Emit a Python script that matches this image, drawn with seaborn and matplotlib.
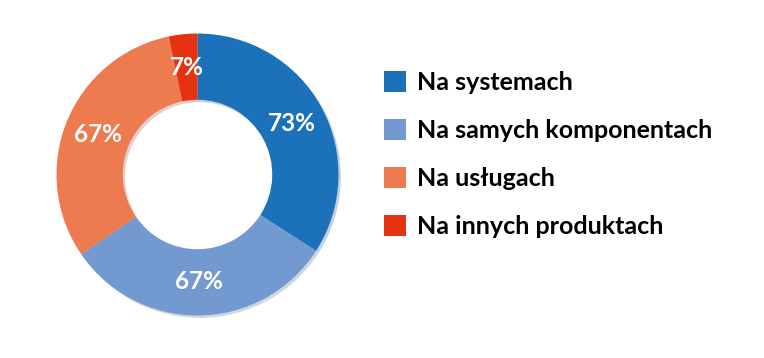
import matplotlib
matplotlib.use('Agg')
import matplotlib.pyplot as plt
import seaborn as sns
import numpy as np

categories = ['Na systemach', 'Na samych komponentach', 'Na usługach', 'Na innych produktach']
values = [73, 67, 67, 7]
pct_labels = ['73%', '67%', '67%', '7%']
colors = ['#1b72bb', '#7299d0', '#ee7a50', '#e43212']

sns.set_theme(style='white')
plt.rcParams['font.family'] = ['Lato', 'DejaVu Sans']

fig = plt.figure(figsize=(7.64, 3.58), dpi=100)
ax = fig.add_axes([56.5 / 764, 42.5 / 358, 282 / 764, 282 / 358])

palette = sns.color_palette(colors)
wedges, _ = ax.pie(values, colors=palette, startangle=90, counterclock=False,
                   radius=1, wedgeprops=dict(width=0.47, linewidth=0),
                   shadow=dict(ox=0.012, oy=-0.012, shade=0.4, alpha=0.25))

# etykiety procentowe w pierścieniu
total = sum(values)
ang = 90.0
for w, lab in zip(values, pct_labels):
    span = w / total * 360
    mid = np.deg2rad(ang - span / 2)
    ang -= span
    ax.text(0.76 * np.cos(mid), 0.76 * np.sin(mid), lab, ha='center', va='center',
            color='white', fontsize=17.5, fontweight='bold')

ax.set_xlim(-1, 1)
ax.set_ylim(-1, 1)
ax.axis('off')

fig.legend(wedges, categories, loc='upper left', bbox_to_anchor=(384 / 764, 1 - 71 / 358),
           frameon=False, prop=dict(weight='bold', size=18), labelcolor='black',
           handlelength=0.88, handleheight=0.88, handletextpad=0.45, labelspacing=1.0,
           borderpad=0, borderaxespad=0)

fig.savefig('out.png', dpi=100)
